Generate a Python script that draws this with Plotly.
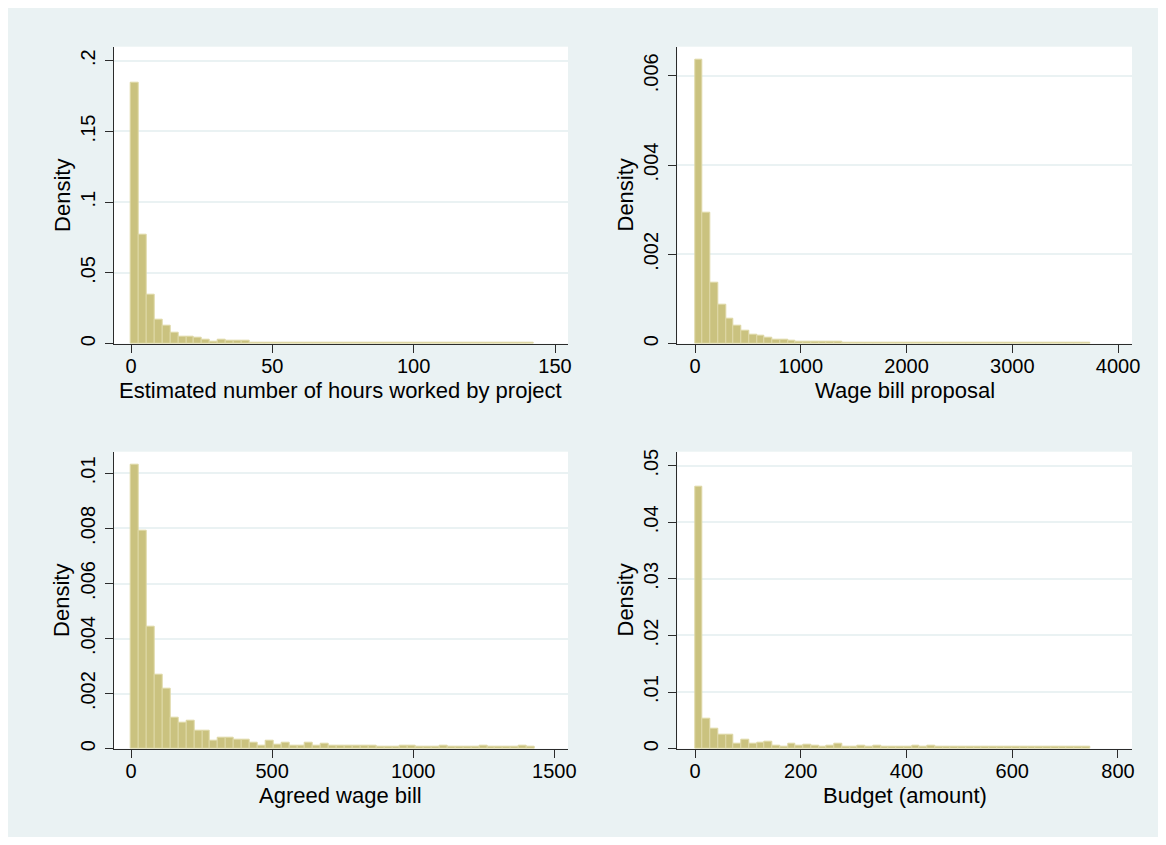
import plotly.graph_objects as go

# ---------------- data ----------------
hours_range = [0.0, 142.4]
hours_density = [0.1847, 0.0768, 0.0346, 0.0170, 0.0125, 0.0080, 0.0052, 0.0052, 0.0042, 0.0028,
                 0.0017, 0.0028, 0.0019, 0.0019, 0.0019, 0.0010, 0.0010, 0.0008, 0.0008, 0.0008,
                 0.0008, 0.0008, 0.0008, 0.0008, 0.0008, 0.0008, 0.0008, 0.0008, 0.0008, 0.0008,
                 0.0008, 0.0008, 0.0008, 0.0008, 0.0008, 0.0008, 0.0008, 0.0008, 0.0008, 0.0008,
                 0.0008, 0.0008, 0.0008, 0.0008, 0.0008, 0.0008, 0.0008, 0.0008, 0.0008, 0.0008,
                 0.0008]

proposal_range = [0.0, 3735.0]
proposal_density = [0.00637, 0.00294, 0.00137, 0.00087, 0.00057, 0.00041, 0.00028, 0.00021, 0.00018,
                    0.00014, 0.00009, 0.00009, 0.000067, 0.000052, 0.000052, 0.000052, 0.000052,
                    0.000052, 0.000052, 0.00003, 0.00003, 0.00003, 0.00003, 0.00003, 0.00003,
                    0.00003, 0.00003, 0.00003, 0.00003, 0.00003, 0.00003, 0.00003, 0.00003,
                    0.00003, 0.00003, 0.00003, 0.00003, 0.00003, 0.00003, 0.00003, 0.00003,
                    0.00003, 0.00003, 0.00003, 0.00003, 0.00003, 0.00003, 0.00003, 0.00003,
                    0.00003, 0.00003]

agreed_range = [0.0, 1430.5]
agreed_density = [0.01033, 0.00791, 0.00444, 0.00270, 0.00218, 0.00112, 0.00095, 0.00103, 0.00066,
                  0.00066, 0.00029, 0.00041, 0.00041, 0.00033, 0.00033, 0.00023, 0.00011, 0.00030,
                  0.00014, 0.00021, 0.00010, 0.00010, 0.00021, 0.00010, 0.00018, 0.00010, 0.00010,
                  0.00010, 0.00010, 0.00010, 0.00010, 0.00006, 0.00006, 0.00006, 0.00010, 0.00010,
                  0.00006, 0.00006, 0.00006, 0.00010, 0.00006, 0.00006, 0.00006, 0.00006, 0.00010,
                  0.00006, 0.00006, 0.00006, 0.00006, 0.00010, 0.00006]

budget_range = [0.0, 747.0]
budget_density = [0.04635, 0.00530, 0.00350, 0.00253, 0.00253, 0.00094, 0.00159, 0.00082, 0.00100,
                  0.00130, 0.00053, 0.00035, 0.00082, 0.00053, 0.00065, 0.00047, 0.00035, 0.00053,
                  0.00082, 0.00035, 0.00035, 0.00047, 0.00035, 0.00047, 0.00035, 0.00035, 0.00035,
                  0.00035, 0.00047, 0.00035, 0.00047, 0.00030, 0.00030, 0.00030, 0.00030, 0.00030,
                  0.00030, 0.00030, 0.00030, 0.00030, 0.00030, 0.00030, 0.00030, 0.00030, 0.00030,
                  0.00030, 0.00030, 0.00030, 0.00030, 0.00030, 0.00030]

x_titles = ["Estimated number of hours worked by project", "Wage bill proposal",
            "Agreed wage bill", "Budget (amount)"]
y_title = "Density"

x_tickvals = [[0, 50, 100, 150], [0, 1000, 2000, 3000, 4000],
              [0, 500, 1000, 1500], [0, 200, 400, 600, 800]]
y_tickvals = [[0, 0.05, 0.1, 0.15, 0.2], [0, 0.002, 0.004, 0.006],
              [0, 0.002, 0.004, 0.006, 0.008, 0.01], [0, 0.01, 0.02, 0.03, 0.04, 0.05]]
y_ticktext = [["0", ".05", ".1", ".15", ".2"], ["0", ".002", ".004", ".006"],
              ["0", ".002", ".004", ".006", ".008", ".01"], ["0", ".01", ".02", ".03", ".04", ".05"]]

# ---------------- layout geometry ----------------
W, H = 1150, 829
BG = "#EAF2F3"
BAR_FILL = "rgb(202,194,127)"
BAR_LINE = "rgb(222,216,166)"
AXIS_COLOR = "#2b2b2b"
FONT = "Liberation Sans, Arial, sans-serif"

# plot-area boxes in figure pixels (left, right, top, bottom)
boxes = [(105.7, 560.0, 38.7, 335.7), (669.3, 1124.0, 38.7, 335.7),
         (105.7, 560.0, 443.7, 740.7), (669.3, 1124.0, 443.7, 740.7)]
x_ranges = [[-6.12, 154.6], [-167.4, 4132.0], [-61.3, 1548.5], [-33.5, 826.5]]
y_ranges = [[0, 0.2099], [0, 0.00665], [0, 0.010787], [0, 0.05247]]

series = [(hours_range, hours_density), (proposal_range, proposal_density),
          (agreed_range, agreed_density), (budget_range, budget_density)]

fig = go.Figure()
annotations = []
for i, ((lo, hi), dens) in enumerate(series):
    n = len(dens)
    w = (hi - lo) / n
    centers = [lo + (k + 0.5) * w for k in range(n)]
    sfx = "" if i == 0 else str(i + 1)
    fig.add_trace(go.Bar(x=centers, y=dens, width=w, xaxis="x" + sfx, yaxis="y" + sfx,
                         marker=dict(color=BAR_FILL, line=dict(color=BAR_LINE, width=1)),
                         showlegend=False, hoverinfo="x+y"))
    l, r, t, b = boxes[i]
    xd = [l / W, r / W]
    yd = [1 - b / H, 1 - t / H]
    fig.layout["xaxis" + sfx] = dict(
        domain=xd, range=x_ranges[i], anchor="y" + sfx, showline=True, linecolor=AXIS_COLOR,
        linewidth=1, ticks="outside", ticklen=8, tickcolor=AXIS_COLOR, tickwidth=1,
        tickvals=x_tickvals[i], showgrid=False, zeroline=False, automargin=False,
        tickfont=dict(size=20, color="black", family=FONT), ticklabelstandoff=-4)
    fig.layout["yaxis" + sfx] = dict(
        domain=yd, range=y_ranges[i], anchor="x" + sfx, showline=True, linecolor=AXIS_COLOR,
        linewidth=1, ticks="outside", ticklen=8, tickcolor=AXIS_COLOR, tickwidth=1,
        tickvals=y_tickvals[i], ticktext=y_ticktext[i], tickangle=-90,
        showgrid=True, gridcolor=BG, gridwidth=1.5, zeroline=False, automargin=False,
        tickfont=dict(size=20, color="black", family=FONT), ticklabelstandoff=2)
    annotations.append(dict(text=x_titles[i], xref="paper", yref="paper",
                            x=(l + r) / 2 / W, y=1 - (b + 47) / H, xanchor="center", yanchor="middle",
                            showarrow=False, font=dict(size=22, color="black", family=FONT)))
    annotations.append(dict(text=y_title, xref="paper", yref="paper", textangle=-90,
                            x=(l - 52) / W, y=1 - (t + b) / 2 / H, xanchor="center", yanchor="middle",
                            showarrow=False, font=dict(size=22, color="black", family=FONT)))

fig.update_layout(width=W, height=H, margin=dict(l=0, r=0, t=0, b=0),
                  paper_bgcolor=BG, plot_bgcolor="white", bargap=0,
                  annotations=annotations, font=dict(family=FONT, color="black"))

fig.write_html("out.html")
